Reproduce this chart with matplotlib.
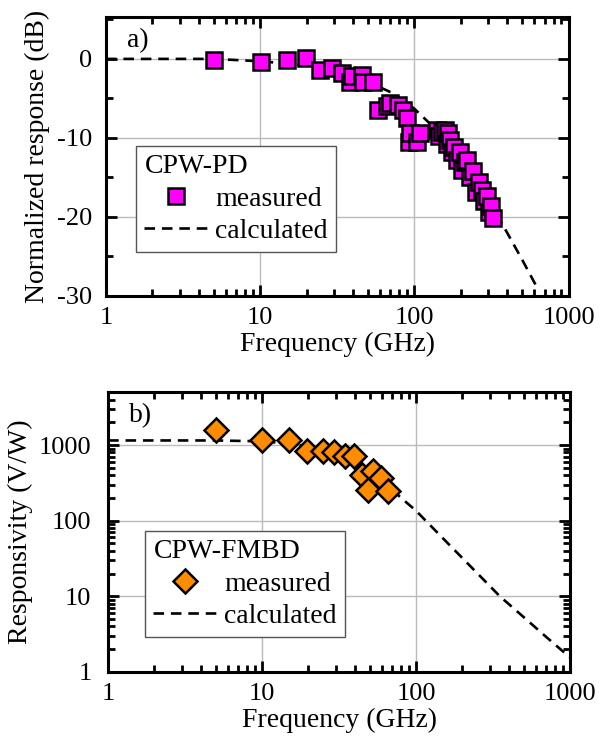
import numpy as np
import matplotlib
matplotlib.use("Agg")
import matplotlib.pyplot as plt
from matplotlib.ticker import LogLocator, MultipleLocator, NullFormatter, FixedLocator, FixedFormatter

plt.rcParams['font.family'] = ['Liberation Serif', 'DejaVu Serif']

# (a) CPW-PD normalized response
pd_freq = [5.0, 10.1, 14.9, 19.9, 24.5, 29.2, 33.8, 38.5, 39.3, 45.5, 46.5, 54.0,
           58.0, 66.0, 70.0, 78.0, 85.0, 90.0, 92.0, 94.0, 104.0, 109.0,
           140.0, 145.0, 150.0, 158.0, 162.0, 166.0, 171.0, 175.0, 182.0, 190.0,
           198.0, 205.0, 212.0, 221.0, 230.0, 240.0, 250.0, 262.0, 276.0,
           285.0, 295.0, 305.0, 315.0, 325.0]
pd_resp = [-0.1, -0.35, -0.1, 0.1, -1.4, -1.2, -1.8, -2.9, -2.2, -2.0, -2.9, -2.9,
           -6.5, -6.0, -5.6, -5.8, -6.5, -7.5, -10.5, -9.4, -10.5, -9.4,
           -9.0, -9.8, -9.2, -9.0, -10.8, -9.4, -10.3, -11.8, -11.2, -12.8,
           -11.8, -14.0, -13.0, -12.8, -15.0, -14.2, -16.8, -15.6, -16.6,
           -18.0, -17.4, -19.4, -18.6, -20.1]
pd_calc_freq = [1, 5, 10, 20, 30, 50, 70, 100, 150, 200, 300, 400, 500, 620]
pd_calc_resp = [0.0, 0.0, -0.3, -0.8, -1.5, -2.9, -4.2, -6.3, -9.6, -12.6, -17.8, -22.0, -25.4, -28.8]

# (b) CPW-FMBD responsivity
fm_freq = [5.0, 10.0, 15.0, 19.7, 25.0, 29.3, 34.6, 39.8, 44.4, 52.8, 59.0, 49.0, 66.0]
fm_resp = [1570, 1180, 1150, 830, 830, 800, 725, 710, 406, 450, 367, 257, 244]
fm_calc_freq = [1, 5, 10, 15, 20, 30, 45, 60, 80, 100, 150, 200, 350, 500, 700, 1000]
fm_calc_resp = [1150, 1150, 1120, 1050, 950, 760, 520, 340, 200, 135, 58, 32, 10, 5.3, 2.9, 1.55]

FS = 20
TS = 19
fig = plt.figure(figsize=(6.11, 7.40), dpi=100)
ax1 = fig.add_axes([0.1735, 0.600, 0.757, 0.377])
ax2 = fig.add_axes([0.177, 0.092, 0.756, 0.378])


def style_axes(ax, ypad):
    for s in ax.spines.values():
        s.set_linewidth(2.2)
    ax.tick_params(which='both', direction='in', top=True, right=True,
                   labelsize=TS, width=2.0, pad=8)
    ax.tick_params(axis='y', which='both', pad=ypad)
    ax.tick_params(which='major', length=8)
    ax.tick_params(which='minor', length=5)
    ax.grid(True, which='major', color='#bbbbbb', linewidth=1.0)
    ax.set_axisbelow(True)
    ax.set_xscale('log')
    ax.set_xlim(1, 1000)
    ax.xaxis.set_major_locator(FixedLocator([1, 10, 100, 1000]))
    ax.xaxis.set_major_formatter(FixedFormatter(['1', '10', '100', '1000']))
    ax.xaxis.set_minor_locator(LogLocator(base=10, subs=np.arange(2, 10)))
    ax.xaxis.set_minor_formatter(NullFormatter())
    ax.set_xlabel('Frequency (GHz)', fontsize=FS, labelpad=2)


legend_kw = dict(loc='upper left', fontsize=FS, title_fontsize=FS,
                 alignment='left', frameon=True, fancybox=False, edgecolor='#555555',
                 framealpha=1, borderpad=0.3, handlelength=2.25, handletextpad=0.3,
                 labelspacing=0.25, borderaxespad=0)

# panel a
style_axes(ax1, ypad=10)
ax1.plot(pd_calc_freq, pd_calc_resp, color='black', linestyle='--', linewidth=1.9,
         dashes=(4, 2.6), label='calculated', zorder=2)
ax1.plot(pd_freq, pd_resp, linestyle='none', marker='s', markersize=12,
         markerfacecolor='#ff00ff', markeredgecolor='black', markeredgewidth=1.8,
         label='measured', zorder=3)
ax1.set_ylim(-30, 5.3)
ax1.yaxis.set_major_locator(FixedLocator([-30, -20, -10, 0]))
ax1.yaxis.set_major_formatter(FixedFormatter(['-30', '-20', '-10', '0']))
ax1.yaxis.set_minor_locator(MultipleLocator(5))
ax1.set_ylabel('Normalized response (dB)', fontsize=FS, labelpad=5)
ax1.text(0.045, 0.915, 'a)', transform=ax1.transAxes, fontsize=FS, va='center')
h, l = ax1.get_legend_handles_labels()
leg1 = ax1.legend(h[::-1], l[::-1], title='CPW-PD',
                  bbox_to_anchor=(0.065, 0.538), **legend_kw)
leg1.get_frame().set_linewidth(1.0)

# panel b
style_axes(ax2, ypad=12)
ax2.set_yscale('log')
ax2.plot(fm_calc_freq, fm_calc_resp, color='black', linestyle='--', linewidth=1.9,
         dashes=(4, 2.6), label='calculated', zorder=2)
ax2.plot(fm_freq, fm_resp, linestyle='none', marker='D', markersize=12.5,
         markerfacecolor='#ff8c00', markeredgecolor='black', markeredgewidth=1.8,
         label='measured', zorder=3)
ax2.set_ylim(1, 5000)
ax2.yaxis.set_major_locator(FixedLocator([1, 10, 100, 1000]))
ax2.yaxis.set_major_formatter(FixedFormatter(['1', '10', '100', '1000']))
ax2.yaxis.set_minor_locator(LogLocator(base=10, subs=np.arange(2, 10)))
ax2.yaxis.set_minor_formatter(NullFormatter())
ax2.set_ylabel('Responsivity (V/W)', fontsize=FS, labelpad=4)
ax2.text(0.045, 0.918, 'b)', transform=ax2.transAxes, fontsize=FS, va='center')
h, l = ax2.get_legend_handles_labels()
leg2 = ax2.legend(h[::-1], l[::-1], title='CPW-FMBD',
                  bbox_to_anchor=(0.08, 0.504), **legend_kw)
leg2.get_frame().set_linewidth(1.0)

fig.savefig('out.png', dpi=100)
